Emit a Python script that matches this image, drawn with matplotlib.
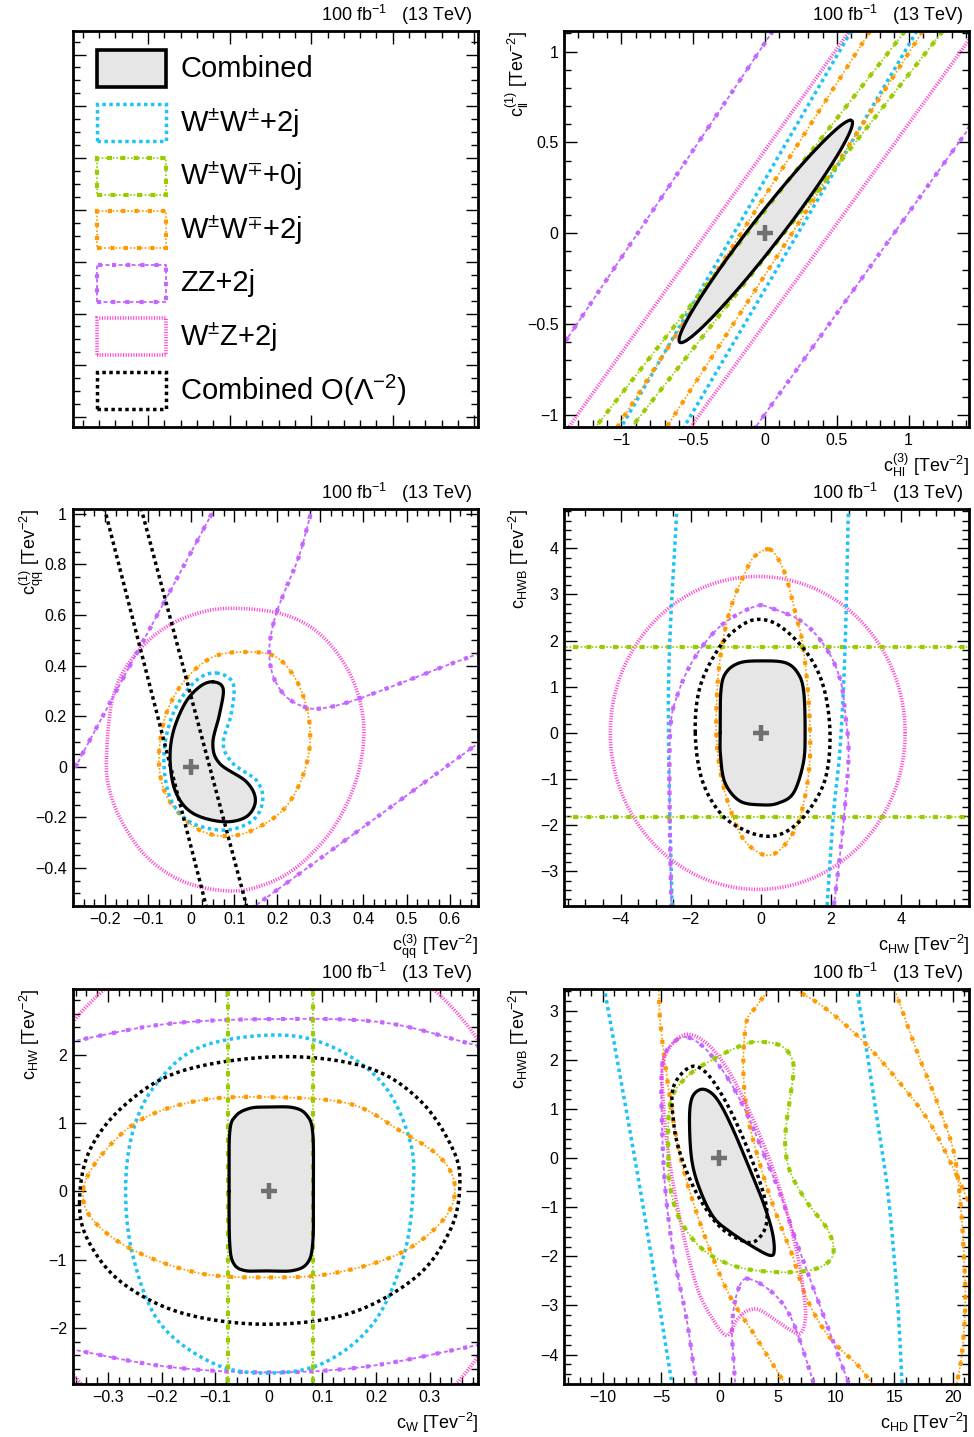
import numpy as np
import matplotlib
matplotlib.use('Agg')
import matplotlib.pyplot as plt
from matplotlib.ticker import MultipleLocator, FixedLocator, FuncFormatter, NullFormatter
from matplotlib.patches import Rectangle

plt.rcParams['font.family'] = ['Liberation Sans', 'DejaVu Sans']
plt.rcParams['mathtext.fontset'] = 'custom'
plt.rcParams['mathtext.rm'] = 'Liberation Sans'
plt.rcParams['mathtext.it'] = 'Liberation Sans'
plt.rcParams['mathtext.default'] = 'regular'

# ---------------- legend ----------------
LEGEND_KEYS = ['comb', 'wpwp', 'ww0j', 'ww2j', 'zz', 'wz', 'lo']
LEGEND_LABELS = ['Combined', 'W$^{\\pm}$W$^{\\pm}$+2j', 'W$^{\\pm}$W$^{\\mp}$+0j',
                 'W$^{\\pm}$W$^{\\mp}$+2j', 'ZZ+2j', 'W$^{\\pm}$Z+2j', 'Combined O(\u039b$^{-2}$)']
HEADER = '100 fb$^{-1}$   (13 TeV)'

# ---------------- panel: cHl3 vs cll1 ----------------
TR_COMB_CENTER = (0.005, 0.01)
TR_COMB_TIP = (0.59, 0.612)
TR_COMB_HALFWIDTH = 0.13
TR_WPWP = [[(0.60, 1.113), (-1.001, -1.066)], [(1.057, 1.113), (-0.564, -1.066)]]
TR_WW2J = [[(0.732, 1.113), (-1.029, -1.066)], [(1.099, 1.113), (-0.685, -1.066)]]
TR_WW0J = [[(0.976, 1.113), (-1.18, -1.066)], [(1.238, 1.113), (-0.929, -1.066)]]
TR_WZ = [[(0.588, 1.113), (-1.366, -1.066)], [(1.43, 1.075), (-0.518, -1.066)]]
TR_ZZ = [[(0.054, 1.113), (-1.40, -0.606)], [(1.43, 0.589), (-0.065, -1.066)]]

# ---------------- panel: cqq3 vs cqq1 ----------------
ML_COMB = [(0.05, 0.336), (0.074, 0.309), (0.066, 0.211), (0.05, 0.092), (0.066, 0.013),
           (0.128, -0.059), (0.149, -0.132), (0.128, -0.197), (0.074, -0.217), (0.004, -0.184),
           (-0.035, -0.105), (-0.049, 0.013), (-0.043, 0.132), (-0.015, 0.25), (0.019, 0.316)]
ML_WPWP = [(0.058, 0.371), (0.097, 0.329), (0.093, 0.211), (0.074, 0.092), (0.097, 0.013),
           (0.151, -0.053), (0.166, -0.132), (0.143, -0.211), (0.081, -0.25), (0.004, -0.224),
           (-0.043, -0.145), (-0.062, -0.026), (-0.06, 0.105), (-0.035, 0.237), (0.012, 0.342)]
ML_WW2J = [(-0.075, 0.053), (-0.058, 0.211), (-0.015, 0.342), (0.05, 0.434), (0.128, 0.454),
           (0.197, 0.434), (0.244, 0.342), (0.271, 0.211), (0.275, 0.079), (0.255, -0.053),
           (0.213, -0.171), (0.143, -0.25), (0.081, -0.274), (0.019, -0.25), (-0.035, -0.171),
           (-0.066, -0.079)]
ML_WZ = [(-0.197, 0.039), (-0.182, 0.276), (-0.135, 0.434), (-0.058, 0.553), (0.035, 0.616),
         (0.124, 0.625), (0.221, 0.599), (0.298, 0.526), (0.36, 0.395), (0.395, 0.237),
         (0.399, 0.079), (0.375, -0.092), (0.321, -0.263), (0.236, -0.408), (0.143, -0.48),
         (0.062, -0.487), (-0.027, -0.447), (-0.104, -0.355), (-0.159, -0.224), (-0.19, -0.092)]
ML_LO = [[(-0.206, 1.05), (0.036, -0.56)], [(-0.121, 1.05), (0.130, -0.56)]]
ML_ZZ_LINES = [[(-0.285, -0.05), (0.057, 1.03)], [(0.14, -0.56), (0.68, 0.11)]]
ML_ZZ_CURVE = [(0.285, 1.05), (0.252, 0.842), (0.221, 0.711), (0.197, 0.605), (0.183, 0.5),
               (0.182, 0.421), (0.194, 0.342), (0.221, 0.276), (0.259, 0.239), (0.298, 0.23),
               (0.368, 0.257), (0.484, 0.329), (0.584, 0.395), (0.68, 0.455)]

# ---------------- panel: cHW vs cHWB ----------------
MR_COMB = [(-1.16, 0.0), (-1.14, 0.9), (-1.0, 1.3), (-0.6, 1.52), (0.05, 1.56), (0.7, 1.52),
           (1.05, 1.3), (1.22, 0.9), (1.26, 0.0), (1.21, -0.65), (0.93, -1.3), (0.5, -1.52),
           (0.05, -1.56), (-0.59, -1.48), (-1.02, -1.085), (-1.15, -0.5)]
MR_LO = [(-1.87, 0.0), (-1.73, 1.01), (-1.16, 1.88), (-0.59, 2.31), (-0.07, 2.46), (0.55, 2.31),
         (1.31, 1.735), (1.78, 1.01), (1.97, 0.0), (1.83, -1.01), (1.31, -1.735), (0.74, -2.13),
         (0.17, -2.24), (-0.49, -2.1), (-1.16, -1.735), (-1.68, -1.01)]
MR_WW2J = [(0.22, 3.98), (0.5, 3.76), (0.74, 3.33), (0.98, 2.6), (1.17, 2.02), (1.33, 1.01),
           (1.4, 0.07), (1.39, -0.65), (1.26, -1.37), (1.02, -2.02), (0.55, -2.53), (0.08, -2.64),
           (-0.49, -2.31), (-0.87, -1.66), (-1.11, -1.01), (-1.25, -0.29), (-1.27, 0.43),
           (-1.2, 1.37), (-1.02, 2.24), (-0.78, 2.89), (-0.49, 3.4), (-0.21, 3.8)]
MR_WZ_CENTER = (-0.09, 0.0)
MR_WZ_SEMI = (4.2, 3.39)
MR_WW0J_Y = [1.858, -1.83]
MR_WPWP = [[(-2.39, 4.9), (-2.6, 1.88), (-2.63, -0.29), (-2.53, -3.8)],
           [(2.495, 4.9), (2.4, 1.88), (2.26, -0.29), (2.07, -1.74), (1.88, -3.8)]]
MR_ZZ = [(-2.55, -3.8), (-2.6, -1.735), (-2.58, 0.07), (-2.39, 0.795), (-1.92, 1.59),
         (-1.16, 2.31), (-0.21, 2.73), (0.27, 2.71), (1.21, 2.39), (1.88, 1.81), (2.26, 1.157),
         (2.4, 0.434), (2.5, -0.434), (2.38, -1.735), (2.2, -3.0), (2.07, -3.8)]

# ---------------- panel: cW vs cHW ----------------
BL_COMB = [(-0.074, 0.0), (-0.073, 0.85), (-0.062, 1.1), (-0.035, 1.215), (0.0, 1.232),
           (0.045, 1.225), (0.07, 1.12), (0.082, 0.85), (0.083, 0.0), (0.082, -0.75),
           (0.072, -1.05), (0.045, -1.16), (0.0, -1.165), (-0.045, -1.16), (-0.066, -1.05),
           (-0.073, -0.75)]
BL_LO = [(-0.353, -0.18), (-0.334, 0.6), (-0.266, 1.28), (-0.16, 1.766), (0.02, 1.97),
         (0.182, 1.815), (0.282, 1.328), (0.344, 0.6), (0.356, 0.063), (0.338, -0.57),
         (0.275, -1.25), (0.151, -1.786), (-0.004, -1.946), (-0.16, -1.786), (-0.272, -1.348),
         (-0.334, -0.764)]
BL_WPWP = [(-0.267, 0.015), (-0.253, 0.89), (-0.21, 1.57), (-0.129, 2.107), (0.014, 2.287),
           (0.12, 2.107), (0.213, 1.57), (0.263, 0.745), (0.269, 0.015), (0.251, -0.96),
           (0.195, -1.93), (0.101, -2.516), (-0.004, -2.66), (-0.104, -2.516), (-0.203, -1.93),
           (-0.253, -0.96)]
BL_WW2J = [(-0.346, 0.015), (-0.315, 0.5), (-0.241, 1.036), (-0.129, 1.33), (0.008, 1.377),
           (0.151, 1.28), (0.244, 0.89), (0.319, 0.5), (0.347, 0.063), (0.325, -0.42),
           (0.244, -0.91), (0.12, -1.2), (0.002, -1.26), (-0.129, -1.2), (-0.253, -0.86),
           (-0.328, -0.42)]
BL_WW0J_X = [-0.077, 0.0815]
BL_ZZ_TOP = [(-0.37, 2.19), (-0.191, 2.448), (0.008, 2.52), (0.213, 2.47), (0.39, 2.13)]
BL_ZZ_BOT = [(-0.37, -2.31), (-0.191, -2.565), (-0.004, -2.65), (0.182, -2.565), (0.39, -2.25)]
BL_WZ_CENTER = (0.0, -0.1)
BL_WZ_SEMI = (0.48, 3.97)

# ---------------- panel: cHD vs cHWB ----------------
BR_COMB = [(-2.57, 0.77), (-2.37, 1.22), (-1.66, 1.4), (-0.8, 1.35), (0.06, 1.11), (1.2, 0.57),
           (2.64, -0.245), (3.78, -0.92), (4.5, -1.47), (4.7, -1.87), (4.35, -1.98),
           (2.92, -1.81), (0.92, -1.5), (-0.51, -1.2), (-1.66, -0.65), (-2.37, -0.04)]
BR_LO = [(-3.95, 1.45), (-2.51, 1.86), (-1.08, 1.73), (0.64, 1.11), (2.35, 0.23), (3.78, -0.72),
         (4.07, -1.26), (3.49, -1.6), (2.35, -1.71), (0.06, -1.4), (-1.94, -0.72),
         (-3.37, 0.096), (-3.95, 0.77)]
BR_WW0J = [(-4.38, -0.04), (-4.23, 1.11), (-2.8, 1.66), (-0.22, 2.06), (2.35, 2.34),
           (3.78, 2.37), (5.21, 2.3), (6.07, 2.1), (6.35, 1.76), (5.79, 0.81), (5.64, 0.265),
           (6.07, -0.28), (7.5, -0.89), (9.22, -1.43), (9.79, -1.84), (9.36, -2.11),
           (7.79, -2.28), (4.93, -2.32), (1.49, -2.21), (-1.37, -1.87), (-3.37, -1.26),
           (-4.23, -0.585)]
BR_WZ = [(-4.8, 2.0), (-3.09, 2.51), (-1.08, 2.34), (0.92, 1.73), (2.92, 0.77), (4.64, -0.245),
         (5.9, -1.2), (6.8, -2.1), (7.3, -2.9), (7.36, -3.3), (6.93, -3.57), (6.07, -3.5),
         (4.64, -3.27), (3.3, -3.08), (2.3, -3.12), (1.49, -3.3), (0.64, -3.61), (-0.51, -3.3),
         (-1.94, -2.62), (-3.37, -1.26), (-4.38, 0.096), (-4.8, 1.11)]
BR_ZZ = [[(-1.94, -4.7), (-2.8, -3.3), (-3.95, -1.94), (-4.66, -0.585), (-4.94, 0.77),
          (-4.94, 1.79), (-4.52, 2.2), (-3.09, 2.47), (-1.37, 2.27), (0.64, 1.66), (2.35, 0.91),
          (3.78, 0.096), (5.21, -0.72), (6.6, -1.7), (8.6, -3.0), (11.1, -4.6), (11.15, -4.7)],
         [(1.37, -4.7), (1.09, -3.38), (1.8, -2.56), (2.95, -2.49), (4.95, -2.83), (6.38, -3.38),
          (8.1, -4.6), (8.15, -4.7)]]
BR_WW2J = [[(-5.21, 3.5), (-5.06, 2.74), (-4.34, 1.38), (-3.35, 0.02), (-1.63, -1.34),
            (0.66, -2.7), (2.95, -3.58), (5.52, -4.565), (5.6, -4.7)],
           [(4.4, 3.5), (3.12, 3.08), (2.35, 2.81), (2.06, 2.13), (2.12, 1.45), (2.49, 0.77),
            (3.21, 0.1), (4.07, -0.59), (5.06, -1.26), (6.2, -1.94), (7.3, -2.75), (8.7, -3.4),
            (10.2, -3.85), (11.8, -4.2), (12.96, -4.565), (13.1, -4.7)],
           [(6.07, 3.5), (8.95, 3.08), (12.08, 2.44), (14.94, 1.69), (17.8, 0.81), (19.8, -0.075),
            (21.37, -0.89), (21.6, -1.0)],
           [(14.94, 3.5), (16.95, 2.17), (18.66, 1.15), (20.09, 0.13), (20.66, -0.89),
            (20.95, -1.91), (21.09, -2.93), (20.81, -3.95), (20.38, -4.56), (20.3, -4.7)]]
BR_WPWP = [[(-9.9, 3.5), (-6.78, -0.66), (-4.0, -4.7)],
           [(11.75, 3.5), (12.65, 2.17), (13.51, 0.81), (14.37, -0.55), (14.94, -1.91),
            (15.37, -3.27), (15.68, -4.7)]]

BEST_FIT = (0.0, 0.0)

# ---------------- styles ----------------
STYLES = {
    'comb': dict(color='black', layers=[(2.3, None)]),
    'wpwp': dict(color='#1ec3f5', layers=[(2.5, (1.0, 1.0))]),
    'ww0j': dict(color='#99cc00', layers=[(1.2, (1.0, 1.2)), (3.0, (1.2, 2.0))]),
    'ww2j': dict(color='#ff9900', layers=[(1.2, (1.0, 1.2)), (3.0, (1.0, 2.2))]),
    'zz': dict(color='#c466ff', layers=[(1.3, (2.2, 1.4)), (3.0, (1.0, 2.4))]),
    'wz': dict(color='#ff40d0', layers=[(2.6, (0.3, 0.42))]),
    'lo': dict(color='black', layers=[(2.5, (1.0, 1.0))]),
}
FILL = '#e6e6e6'


def cr_closed(pts, n=24):
    P = np.asarray(pts, float)
    N = len(P)
    t = np.linspace(0, 1, n, endpoint=False)[:, None]
    segs = []
    for i in range(N):
        p0, p1, p2, p3 = P[i - 1], P[i], P[(i + 1) % N], P[(i + 2) % N]
        segs.append(0.5 * (2 * p1 + (p2 - p0) * t + (2 * p0 - 5 * p1 + 4 * p2 - p3) * t ** 2
                           + (3 * p1 - p0 - 3 * p2 + p3) * t ** 3))
    segs.append(P[:1])
    c = np.vstack(segs)
    return c[:, 0], c[:, 1]


def cr_open(pts, n=24):
    P = np.asarray(pts, float)
    if len(P) == 2:
        return P[:, 0], P[:, 1]
    P = np.vstack([2 * P[0] - P[1], P, 2 * P[-1] - P[-2]])
    t = np.linspace(0, 1, n, endpoint=False)[:, None]
    segs = []
    for i in range(1, len(P) - 2):
        p0, p1, p2, p3 = P[i - 1], P[i], P[i + 1], P[i + 2]
        segs.append(0.5 * (2 * p1 + (p2 - p0) * t + (2 * p0 - 5 * p1 + 4 * p2 - p3) * t ** 2
                           + (3 * p1 - p0 - 3 * p2 + p3) * t ** 3))
    segs.append(P[-2:-1])
    c = np.vstack(segs)
    return c[:, 0], c[:, 1]


def ellipse(center, semi, n=500):
    t = np.linspace(0, 2 * np.pi, n)
    return center[0] + semi[0] * np.cos(t), center[1] + semi[1] * np.sin(t)


def ellipse_conj(center, tip, halfw, n=500):
    t = np.linspace(0, 2 * np.pi, n)
    return (center[0] + tip[0] * np.cos(t) + halfw * np.sin(t),
            center[1] + tip[1] * np.cos(t))


def draw(ax, x, y, key, z=2):
    st = STYLES[key]
    for lw, ds in st['layers']:
        ls = '-' if ds is None else (0, ds)
        ax.plot(x, y, color=st['color'], lw=lw, ls=ls, dash_capstyle='butt',
                solid_capstyle='round', zorder=z)


def draw_comb(ax, x, y):
    ax.fill(x, y, color=FILL, lw=0, zorder=1.5)
    draw(ax, x, y, 'comb', z=3)
    ax.plot([BEST_FIT[0]], [BEST_FIT[1]], marker='+', ms=11, mew=3.2, color='#707070', zorder=4)


def fmt(v, pos):
    v = round(v, 6)
    if abs(v) < 1e-9:
        return '0'
    return ('%g' % v).replace('-', '\u2212')


def finish_axes(ax):
    ax.tick_params(which='both', direction='in', top=True, right=True, width=1.0,
                   labelsize=11.5, pad=4)
    ax.tick_params(which='major', length=9)
    ax.tick_params(which='minor', length=5)
    for s in ax.spines.values():
        s.set_linewidth(2.0)
    ax.annotate(HEADER, xy=(1, 1), xycoords='axes fraction', xytext=(-4.5, 7.5),
                textcoords='offset points', ha='right', va='baseline', fontsize=13)


def style_axes(ax, xlim, ylim, xt, yt, xlabel=None, ylabel=None, yoff=28):
    ax.set_xlim(*xlim)
    ax.set_ylim(*ylim)
    ax.xaxis.set_major_locator(MultipleLocator(xt[0]))
    ax.xaxis.set_minor_locator(MultipleLocator(xt[1]))
    ax.yaxis.set_major_locator(MultipleLocator(yt[0]))
    ax.yaxis.set_minor_locator(MultipleLocator(yt[1]))
    ax.xaxis.set_major_formatter(FuncFormatter(fmt))
    ax.yaxis.set_major_formatter(FuncFormatter(fmt))
    finish_axes(ax)
    ax.annotate(xlabel, xy=(1, 0), xycoords='axes fraction', xytext=(0, -32.5),
                textcoords='offset points', ha='right', va='baseline', fontsize=13)
    ax.annotate(ylabel, xy=(0, 1), xycoords='axes fraction', xytext=(-yoff, 0),
                textcoords='offset points', ha='right', va='baseline', rotation=90,
                rotation_mode='anchor', fontsize=13)


fig = plt.figure(figsize=(9.74, 14.37), dpi=100)
W, H = 974.0, 1437.0
cols = [(72.5, 478.0), (564.0, 969.0)]
rows = [(31.0, 427.0), (509.5, 906.0), (989.0, 1384.0)]


def make_ax(r, c):
    x0, x1 = cols[c]
    t, b = rows[r]
    return fig.add_axes([x0 / W, 1 - b / H, (x1 - x0) / W, (b - t) / H])


# ---- legend panel ----
axL = make_ax(0, 0)
axL.set_xlim(0, 1)
axL.set_ylim(0, 1)
axL.xaxis.set_major_locator(FixedLocator(0.186 + 0.2013 * np.arange(-1, 5)))
axL.xaxis.set_minor_locator(FixedLocator(0.186 + 0.04026 * np.arange(-5, 21)))
axL.yaxis.set_major_locator(FixedLocator(0.025 + 0.1308 * np.arange(0, 8)))
axL.yaxis.set_minor_locator(FixedLocator(0.025 + 0.0327 * np.arange(0, 31)))
axL.xaxis.set_major_formatter(NullFormatter())
axL.yaxis.set_major_formatter(NullFormatter())
finish_axes(axL)
row_px = 69 + 53.6 * np.arange(len(LEGEND_KEYS))
bx, bw, bh = (97 - 72.5) / 405.5, 69 / 405.5, 37 / 396.0
for key, lab, cpx in zip(LEGEND_KEYS, LEGEND_LABELS, row_px):
    yc = 1 - (cpx - 31.0) / 396.0
    st = STYLES[key]
    if key == 'comb':
        axL.add_patch(Rectangle((bx, yc - bh / 2), bw, bh, facecolor=FILL, edgecolor='black',
                                lw=2.6, zorder=3))
    else:
        for lw, ds in st['layers']:
            axL.add_patch(Rectangle((bx, yc - bh / 2), bw, bh, facecolor='none',
                                    edgecolor=st['color'], lw=lw, ls=(0, ds), zorder=3))
    axL.text((180 - 72.5) / 405.5, yc, lab, fontsize=21, ha='left', va='center')

# ---- cHl3 vs cll1 ----
ax = make_ax(0, 1)
for key, segs in [('wz', TR_WZ), ('zz', TR_ZZ), ('wpwp', TR_WPWP), ('ww2j', TR_WW2J),
                  ('ww0j', TR_WW0J)]:
    for s in segs:
        x, y = cr_open(s)
        draw(ax, x, y, key)
x, y = ellipse_conj(TR_COMB_CENTER, TR_COMB_TIP, TR_COMB_HALFWIDTH)
draw_comb(ax, x, y)
style_axes(ax, (-1.40, 1.42), (-1.066, 1.113), (0.5, 0.1), (0.5, 0.1),
           '$c_{Hl}^{(3)}$ [Tev$^{-2}$]', '$c_{ll}^{(1)}$ [Tev$^{-2}$]', yoff=29)

# ---- cqq3 vs cqq1 ----
ax = make_ax(1, 0)
x, y = cr_closed(ML_COMB)
draw_comb(ax, x, y)
draw(ax, *cr_closed(ML_WZ), 'wz')
draw(ax, *cr_closed(ML_WW2J), 'ww2j')
draw(ax, *cr_closed(ML_WPWP), 'wpwp')
for s in ML_ZZ_LINES:
    draw(ax, *cr_open(s), 'zz')
draw(ax, *cr_open(ML_ZZ_CURVE), 'zz')
for s in ML_LO:
    draw(ax, *cr_open(s), 'lo')
style_axes(ax, (-0.276, 0.666), (-0.55, 1.017), (0.1, 0.025), (0.2, 0.05),
           '$c_{qq}^{(3)}$ [Tev$^{-2}$]', '$c_{qq}^{(1)}$ [Tev$^{-2}$]', yoff=26)

# ---- cHW vs cHWB ----
ax = make_ax(1, 1)
x, y = cr_closed(MR_COMB)
draw_comb(ax, x, y)
draw(ax, *ellipse(MR_WZ_CENTER, MR_WZ_SEMI), 'wz')
for yv in MR_WW0J_Y:
    draw(ax, [-6.5, 6.5], [yv, yv], 'ww0j')
for s in MR_WPWP:
    draw(ax, *cr_open(s), 'wpwp')
draw(ax, *cr_open(MR_ZZ), 'zz')
draw(ax, *cr_closed(MR_WW2J), 'ww2j')
draw(ax, *cr_closed(MR_LO), 'lo')
style_axes(ax, (-5.61, 5.93), (-3.75, 4.84), (2, 0.5), (1, 0.2),
           '$c_{HW}$ [Tev$^{-2}$]', '$c_{HWB}$ [Tev$^{-2}$]', yoff=28)

# ---- cW vs cHW ----
ax = make_ax(2, 0)
x, y = cr_closed(BL_COMB)
draw_comb(ax, x, y)
draw(ax, *ellipse(BL_WZ_CENTER, BL_WZ_SEMI), 'wz')
draw(ax, *cr_open(BL_ZZ_TOP), 'zz')
draw(ax, *cr_open(BL_ZZ_BOT), 'zz')
draw(ax, *cr_closed(BL_WPWP), 'wpwp')
draw(ax, *cr_closed(BL_WW2J), 'ww2j')
draw(ax, *cr_closed(BL_LO), 'lo')
for xv in BL_WW0J_X:
    draw(ax, [xv, xv], [-3.0, 3.1], 'ww0j')
style_axes(ax, (-0.366, 0.39), (-2.82, 2.96), (0.1, 0.02), (1, 0.2),
           '$c_{W}$ [Tev$^{-2}$]', '$c_{HW}$ [Tev$^{-2}$]', yoff=26)

# ---- cHD vs cHWB ----
ax = make_ax(2, 1)
x, y = cr_closed(BR_COMB)
draw_comb(ax, x, y)
for s in BR_WPWP:
    draw(ax, *cr_open(s), 'wpwp')
for s in BR_WW2J:
    draw(ax, *cr_open(s), 'ww2j')
for s in BR_ZZ:
    draw(ax, *cr_open(s), 'zz')
draw(ax, *cr_closed(BR_WZ), 'wz')
draw(ax, *cr_closed(BR_WW0J), 'ww0j')
draw(ax, *cr_closed(BR_LO), 'lo')
style_axes(ax, (-13.33, 21.4), (-4.6, 3.45), (5, 1), (1, 0.2),
           '$c_{HD}$ [Tev$^{-2}$]', '$c_{HWB}$ [Tev$^{-2}$]', yoff=28)

fig.savefig('out.png', dpi=100, facecolor='white')
